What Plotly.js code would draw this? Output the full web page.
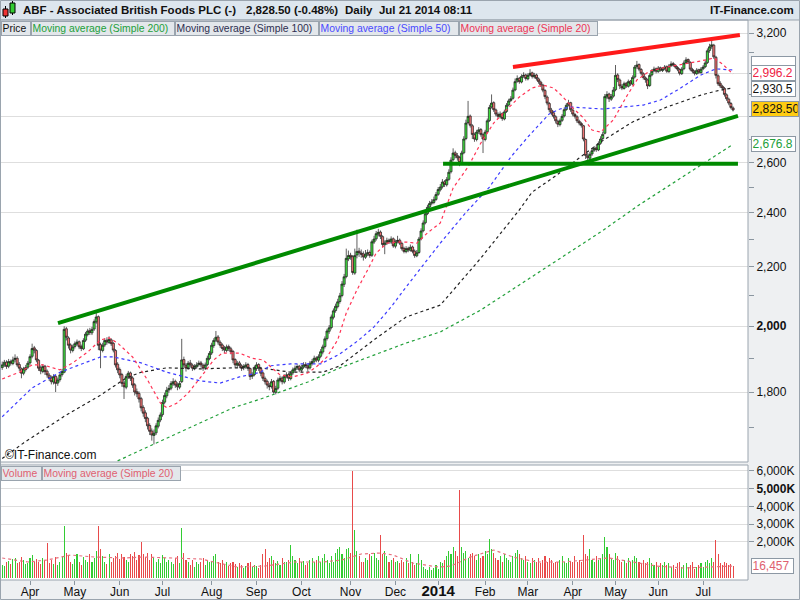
<!DOCTYPE html>
<html><head><meta charset="utf-8">
<script src="https://cdn.plot.ly/plotly-3.0.1.min.js"></script>
<style>html,body{margin:0;padding:0;background:#eef0f2;}#chart{width:800px;height:600px;}</style>
</head><body><div id="chart"></div>
<script>
// ---- daily OHLC (trading-day index 0 = 12 Mar 2013 ... 342 = 21 Jul 2014) ----
const openP = [
1872,1880,1888,1876,1890,1884,1896,1900,1881,1868,
1855,1866,1873,1886,1906,1932,1924,1894,1871,1860,
1876,1861,1849,1841,1829,1846,1826,1836,1851,1858,
1992,1963,1941,1924,1936,1944,1951,1936,1929,1956,
1974,1986,1979,1991,2014,2031,1942,1924,1941,1956,
1949,1957,1946,1924,1882,1866,1851,1826,1814,1846,
1856,1841,1821,1801,1796,1781,1756,1741,1726,1706,
1691,1679,1686,1704,1721,1736,1771,1789,1806,1811,
1824,1831,1821,1814,1830,1896,1879,1871,1886,1879,
1871,1874,1881,1886,1879,1871,1881,1899,1916,1939,
1956,1966,1949,1941,1931,1924,1936,1929,1921,1896,
1879,1886,1877,1871,1874,1881,1869,1846,1851,1869,
1881,1869,1856,1839,1831,1819,1816,1831,1799,1811,
1834,1841,1829,1846,1851,1839,1856,1864,1871,1876,
1864,1873,1881,1877,1871,1884,1891,1901,1894,1906,
1919,1936,1961,1984,1996,2029,2051,2064,2081,2101,
2139,2166,2228,2241,2236,2178,2242,2256,2249,2246,
2234,2246,2251,2241,2289,2301,2319,2326,2309,2279,
2286,2296,2289,2301,2274,2291,2296,2284,2266,2254,
2266,2259,2271,2256,2239,2251,2301,2331,2361,2396,
2421,2436,2439,2451,2471,2489,2501,2521,2509,2531,
2562,2612,2641,2629,2621,2598,2641,2702,2772,2801,
2758,2719,2698,2732,2741,2719,2698,2732,2781,2842,
2862,2829,2809,2798,2812,2788,2822,2851,2872,2882,
2921,2962,2976,2958,2987,2992,2973,2991,3002,2983,
2992,2973,2958,2944,2918,2888,2858,2828,2816,2798,
2778,2763,2782,2802,2831,2852,2862,2828,2808,2798,
2778,2768,2758,2698,2628,2618,2636,2652,2662,2653,
2682,2702,2725,2888,2902,2878,2892,2922,2992,2968,
2938,2928,2952,2938,2962,2948,2982,3032,3042,3018,
2998,2978,2968,2942,2992,3012,3022,3008,3027,3013,
3022,3032,3008,3037,3047,3038,3028,3018,2998,3022,
3052,3067,3053,3018,3008,2998,3017,3003,3022,3032,
3052,3112,3132,3138,3078,2988,2952,2938,2928,2898,
2878,2858,2838];
const highP = [
1890,1895,1894,1898,1896,1905,1912,1906,1888,1872,
1874,1880,1892,1912,1945,1938,1928,1898,1878,1882,
1880,1866,1855,1848,1852,1850,1842,1856,1868,2000,
1998,1968,1946,1942,1952,1958,1955,1942,1962,1982,
1992,1995,1998,2022,2045,2035,1948,1948,1962,1965,
1968,1962,1950,1928,1888,1872,1856,1832,1852,1862,
1860,1846,1826,1810,1802,1786,1762,1748,1730,1712,
1698,1695,1712,1728,1742,1778,1798,1815,1820,1832,
1840,1836,1828,1832,1960,1905,1885,1892,1895,1884,
1882,1888,1893,1892,1884,1887,1908,1922,1948,1962,
1985,1972,1955,1946,1938,1942,1942,1935,1925,1900,
1892,1892,1882,1882,1888,1886,1872,1858,1878,1888,
1885,1874,1860,1845,1836,1826,1838,1835,1818,1842,
1848,1846,1852,1858,1856,1862,1872,1878,1882,1880,
1880,1888,1888,1882,1892,1898,1908,1906,1912,1928,
1942,1968,1992,2004,2038,2058,2074,2090,2110,2150,
2175,2265,2258,2250,2242,2265,2335,2268,2262,2255,
2260,2262,2258,2298,2312,2330,2338,2332,2314,2295,
2305,2302,2310,2306,2298,2312,2302,2290,2272,2274,
2272,2280,2276,2262,2260,2308,2340,2370,2405,2430,
2445,2452,2462,2480,2500,2512,2532,2528,2540,2572,
2622,2660,2650,2640,2628,2650,2712,2785,2870,2808,
2765,2728,2740,2752,2748,2726,2740,2790,2852,2900,
2868,2835,2818,2822,2818,2830,2860,2880,2892,2932,
2975,2990,2982,2995,3005,2998,3000,3020,3008,3002,
2998,2980,2965,2950,2925,2895,2865,2838,2825,2805,
2785,2790,2810,2840,2860,2875,2866,2835,2815,2805,
2785,2775,2762,2702,2640,2645,2660,2670,2672,2690,
2712,2732,2902,2915,2908,2902,2935,3040,3000,2975,
2948,2960,2958,2970,2968,2990,3040,3060,3048,3025,
3005,2985,2975,3000,3020,3032,3028,3035,3032,3030,
3040,3038,3045,3058,3055,3045,3035,3025,3030,3062,
3078,3072,3058,3026,3015,3025,3022,3030,3040,3062,
3122,3145,3160,3145,3085,2995,2962,2945,2935,2905,
2885,2865,2845];
const lowP = [
1865,1874,1868,1870,1878,1879,1888,1874,1862,1840,
1849,1860,1868,1880,1900,1915,1888,1862,1852,1855,
1850,1842,1832,1822,1822,1800,1818,1830,1845,1855,
1955,1930,1915,1918,1930,1938,1928,1922,1925,1950,
1968,1972,1972,1985,2008,1925,1870,1918,1935,1942,
1944,1938,1918,1872,1855,1840,1815,1780,1808,1838,
1832,1812,1790,1785,1770,1745,1730,1715,1695,1680,
1665,1655,1680,1698,1715,1730,1765,1782,1798,1805,
1818,1812,1805,1808,1826,1872,1860,1865,1872,1862,
1864,1868,1875,1872,1862,1865,1876,1894,1910,1932,
1950,1942,1932,1922,1916,1918,1922,1912,1885,1872,
1870,1870,1862,1864,1868,1862,1835,1838,1846,1862,
1862,1846,1832,1822,1810,1805,1810,1795,1793,1806,
1828,1822,1824,1840,1832,1834,1850,1858,1865,1858,
1858,1868,1870,1862,1866,1878,1885,1888,1888,1900,
1912,1930,1955,1976,1990,2022,2044,2058,2074,2095,
2130,2160,2220,2225,2172,2172,2230,2235,2232,2222,
2228,2238,2232,2235,2282,2294,2310,2300,2270,2245,
2278,2282,2282,2268,2266,2284,2278,2258,2248,2248,
2252,2254,2248,2232,2234,2246,2295,2325,2355,2390,
2414,2428,2432,2445,2465,2482,2494,2500,2502,2525,
2555,2605,2618,2608,2585,2592,2635,2695,2765,2750,
2700,2688,2690,2722,2710,2640,2690,2725,2775,2835,
2820,2800,2790,2790,2780,2782,2815,2845,2865,2876,
2915,2955,2950,2952,2978,2965,2966,2985,2975,2975,
2965,2950,2935,2910,2878,2850,2818,2805,2790,2768,
2752,2755,2775,2795,2825,2845,2820,2800,2790,2770,
2760,2750,2690,2615,2595,2610,2628,2645,2645,2648,
2675,2695,2720,2878,2865,2870,2885,2915,2958,2925,
2920,2922,2930,2932,2940,2942,2975,3022,3010,2990,
2970,2955,2925,2935,2985,3005,3000,3002,3008,3006,
3015,3002,3002,3030,3032,3022,3010,2990,2992,3015,
3045,3045,3010,3000,2990,2992,2996,2998,3015,3025,
3045,3100,3120,3070,2975,2940,2930,2918,2890,2870,
2850,2832,2822];
const closeP = [
1880,1888,1875,1890,1885,1895,1900,1880,1870,1855,
1868,1872,1885,1905,1930,1925,1895,1870,1862,1875,
1860,1850,1840,1830,1845,1825,1835,1850,1860,1990,
1965,1940,1925,1935,1945,1950,1935,1930,1955,1975,
1985,1980,1990,2015,2030,1940,1925,1940,1955,1950,
1958,1945,1925,1880,1865,1850,1825,1815,1845,1855,
1840,1820,1800,1795,1780,1755,1740,1725,1705,1690,
1680,1685,1705,1720,1735,1770,1790,1805,1810,1825,
1830,1820,1815,1825,1895,1880,1870,1885,1880,1870,
1875,1880,1885,1880,1870,1880,1900,1915,1940,1955,
1965,1950,1940,1930,1925,1935,1930,1920,1895,1880,
1885,1878,1870,1875,1880,1870,1845,1850,1870,1880,
1870,1855,1840,1830,1820,1815,1830,1800,1810,1835,
1840,1830,1845,1850,1840,1855,1865,1870,1875,1865,
1872,1880,1878,1870,1885,1890,1900,1895,1905,1920,
1935,1960,1985,1995,2030,2050,2065,2080,2100,2140,
2165,2230,2240,2235,2180,2240,2255,2250,2245,2235,
2245,2250,2240,2290,2300,2320,2325,2310,2280,2285,
2295,2290,2300,2275,2290,2295,2285,2265,2255,2265,
2260,2270,2255,2240,2250,2300,2330,2360,2395,2420,
2435,2440,2450,2470,2490,2500,2520,2510,2530,2560,
2610,2640,2630,2620,2600,2640,2700,2770,2800,2760,
2720,2700,2730,2740,2720,2700,2730,2780,2840,2860,
2830,2810,2800,2810,2790,2820,2850,2870,2880,2920,
2960,2975,2960,2985,2990,2975,2990,3000,2985,2990,
2975,2960,2945,2920,2890,2860,2830,2815,2800,2780,
2765,2780,2800,2830,2850,2860,2830,2810,2800,2780,
2770,2760,2700,2630,2620,2635,2650,2660,2655,2680,
2700,2720,2890,2900,2880,2890,2920,2990,2970,2940,
2930,2950,2940,2960,2950,2980,3030,3040,3020,3000,
2980,2970,2940,2990,3010,3020,3010,3025,3015,3020,
3030,3010,3035,3045,3040,3030,3020,3000,3020,3050,
3065,3055,3020,3010,3000,3015,3005,3020,3030,3050,
3110,3130,3140,3080,2990,2950,2940,2930,2900,2880,
2860,2840,2828.5];
// volume in thousands of shares
const volumeK = [
720,640,880,950,760,1020,1080,820,900,1150,
980,760,840,1100,1250,900,1050,880,760,1080,
960,1960,820,1000,760,1150,720,860,1200,2900,
1400,1250,900,780,1050,1300,880,700,1150,1000,
900,1350,850,1100,1500,2900,1600,1200,900,780,
1300,850,1100,1200,1400,1050,1300,1150,1000,900,
1350,1200,1450,1000,1250,2000,1300,1150,1400,1000,
1300,1100,900,1050,800,1250,1100,900,1000,850,
750,1100,1200,800,2800,1400,1000,850,700,1000,
600,900,750,850,1100,700,1000,850,950,1200,
1300,900,800,1000,700,850,650,800,900,750,
600,800,700,550,650,800,900,600,700,650,
550,700,1300,1600,900,1100,1200,1000,800,950,
700,1100,850,900,1000,1830,1200,1000,800,1100,
900,950,700,800,1000,1100,850,1000,1200,900,
1100,1300,1000,800,1200,900,1400,1600,1700,1300,
1100,1600,1650,1400,6000,2700,1500,1200,900,900,
1100,1000,1300,1200,1400,1100,1000,2400,1300,1500,
1200,900,1000,1100,850,950,800,1000,900,1100,
800,1300,900,700,800,1300,1000,600,500,450,
600,400,550,700,500,900,800,1000,1200,1500,
1300,1700,1500,1200,4930,1700,1400,1500,1100,1300,
1400,1200,1000,1300,1100,1200,1500,1300,2170,1600,
1400,1100,1000,1200,900,1300,1100,1000,900,1200,
1400,1550,1300,1100,1000,1200,900,800,1100,1000,
900,1100,800,1000,1200,900,1100,1000,800,900,
850,1000,1200,900,800,1100,950,850,1200,900,
1000,900,2390,1300,1200,1600,1000,900,1200,1000,
1100,1300,2260,1700,1300,1100,1000,1400,1200,1000,
900,1000,800,1100,900,1000,1200,1100,900,800,
1000,800,900,1100,800,700,900,600,800,700,
900,700,800,600,700,500,800,900,600,700,
800,600,700,900,500,600,700,800,600,900,
1000,800,1100,900,2140,1300,800,700,900,800,
700,750,650];
const lastVolumeRaw = 16457;

// moving averages (index, value)
const sma200Idx = [54,77,93,108,121,130,143,158,174,189,205,224,242,261,280,298,309,325,342];
const sma200Val = [1612,1672,1713,1755,1780,1800,1829,1871,1910,1947,1982,2053,2137,2231,2326,2429,2488,2578,2676.8];
const sma100Idx = [0,10,30,46,58,65,77,93,108,121,135,150,158,174,189,205,214,224,233,242,248,259,270,280,295,311,327,335,342];
const sma100Val = [1618,1659,1735,1791,1841,1858,1871,1868,1871,1871,1858,1858,1877,1957,2030,2069,2144,2231,2319,2410,2480,2545,2619,2687,2775,2842,2897,2918,2930.5];
const sma50Idx = [0,14,27,40,46,52,65,77,93,102,111,121,125,135,149,158,167,174,182,189,197,205,217,228,238,246,252,256,261,266,273,281,300,308,316,327,334,342];
const sma50Val = [1730,1812,1858,1889,1904,1904,1886,1858,1832,1826,1844,1858,1877,1883,1883,1913,1957,1998,2063,2130,2206,2285,2400,2500,2623,2709,2770,2811,2833,2842,2838,2833,2851,2874,2921,2992,3021,3016];
const sma20Idx = [0,8,14,19,27,33,40,46,50,54,61,68,74,77,82,87,93,99,103,111,117,122,130,136,143,147,152,157,161,166,171,175,180,185,189,194,199,205,211,218,224,230,236,242,248,253,258,262,267,272,276,280,286,292,297,303,311,320,327,333,337,342];
const sma20Val = [1838,1858,1880,1880,1865,1886,1919,1957,1963,1947,1904,1835,1769,1755,1769,1797,1844,1895,1916,1916,1900,1895,1850,1844,1856,1874,1904,1957,2043,2120,2189,2249,2285,2289,2289,2285,2323,2360,2496,2582,2683,2770,2829,2888,2930,2944,2930,2893,2838,2793,2739,2730,2784,2888,2968,3011,3030,3045,3060,3074,3045,2996.2];
const volMaIdx = [0,12,21,32,43,57,66,83,93,101,110,123,137,150,159,168,177,183,192,204,210,219,230,239,250,262,272,284,295,306,319,330,342];
const volMaVal = [1098,873,985,1267,1154,1098,1154,1098,1042,816,591,647,873,873,985,1323,1380,1267,816,591,647,1154,1548,1154,873,873,985,1098,873,647,535,591,647];

// hand-drawn trend lines
const trendUpIdx = [26.1, 344.3], trendUpVal = [2010, 2802];
const supportIdx = [206.3, 344.3], supportVal = [2595, 2595];
const resistIdx = [239, 345.2], resistVal = [3030, 3190];

// axis ticks
const monthTickIdx = [13,34,55,75,98,119,140,163,184,204,226,246,267,287,307,328];
const monthTickText = ['Apr','May','Jun','Jul','Aug','Sep','Oct','Nov','Dec','2014','Feb','Mar','Apr','May','Jun','Jul'];
const priceTicks = [1800,2000,2200,2400,2600,2800,3000,3200];
const priceTicksCovered = [2800,3000];   // labels hidden behind the value boxes in the reference
const priceMinorTicks = [1700,1900,2100,2300,2500,2700,2900,3100];
const volTicks = [2000,3000,4000,5000,6000];

const idx = closeP.map((_, i) => i);
const F = 'Liberation Sans, Arial, sans-serif';
const FN = 'Liberation Sans Narrow, Liberation Sans, Arial, sans-serif';
const fmt = v => v.toLocaleString('en-US');
const fmtDec = (v, d) => v.toLocaleString('en-US', {minimumFractionDigits:d, maximumFractionDigits:d});
const px = p => p / 748;            // canvas px -> paper x
const py = p => (580 - p) / 560;    // canvas px -> paper y
const last = a => a[a.length-1];

const volColors = closeP.map((c, i) => c >= openP[i] ? '#33cc33' : '#e84a4a');

const dash = '3px,3px';
const traces = [
  {type:'scatter', mode:'lines', x:sma200Idx, y:sma200Val, line:{color:'#22a03a', width:1.2, dash}, hoverinfo:'skip'},
  {type:'scatter', mode:'lines', x:sma100Idx, y:sma100Val, line:{color:'#222222', width:1.2, dash}, hoverinfo:'skip'},
  {type:'scatter', mode:'lines', x:sma50Idx, y:sma50Val, line:{color:'#3b3bff', width:1.2, dash}, hoverinfo:'skip'},
  {type:'scatter', mode:'lines', x:sma20Idx, y:sma20Val, line:{color:'#ff3355', width:1.2, dash}, hoverinfo:'skip'},
  {type:'candlestick', x:idx, open:openP, high:highP, low:lowP, close:closeP,
   increasing:{line:{color:'#1a1a1a', width:0.7}, fillcolor:'#3fdc3f'},
   decreasing:{line:{color:'#1a1a1a', width:0.7}, fillcolor:'#f07474'},
   whiskerwidth:0, hoverinfo:'skip'},
  {type:'scatter', mode:'lines', x:trendUpIdx, y:trendUpVal, line:{color:'#008a00', width:4}, hoverinfo:'skip'},
  {type:'scatter', mode:'lines', x:supportIdx, y:supportVal, line:{color:'#008a00', width:4}, hoverinfo:'skip'},
  {type:'scatter', mode:'lines', x:resistIdx, y:resistVal, line:{color:'#ff1a1a', width:4}, hoverinfo:'skip'},
  {type:'bar', x:idx, y:volumeK, yaxis:'y2', marker:{color:volColors, line:{width:0}}, width:0.5, hoverinfo:'skip'},
  {type:'scatter', mode:'lines', x:volMaIdx, y:volMaVal, yaxis:'y2', line:{color:'#e8707e', width:1.2, dash}, hoverinfo:'skip'}
];

const annotations = [];
const hdr = (text, x, anchor) => annotations.push({xref:'paper', yref:'paper', x:px(x), y:py(10.5), xanchor:anchor, yanchor:'middle',
  text:'<b>'+text+'</b>', showarrow:false, font:{family:F, size:11.5, color:'#111'}});
hdr('ABF - Associated British Foods PLC (-)', 21, 'left');
hdr(fmtDec(last(closeP), 2) + ' (-0.48%)', 244, 'left');
hdr('Daily&nbsp;&nbsp;Jul 21 2014 08:11', 343, 'left');
hdr('IT-Finance.com', 796, 'right');

const legBox = (text, x0, x1, yTop, color) => annotations.push({xref:'paper', yref:'paper', x:px(x0), y:py(yTop), xanchor:'left', yanchor:'top',
  width:x1-x0-3, height:12, align:'left', text:text, showarrow:false, bgcolor:'#e3e7eb', bordercolor:'#9aa4ae', borderwidth:1, borderpad:0.5,
  font:{family:F, size:10.4, color:color}});
legBox('Price', 1, 31, 20.5, '#111');
legBox('Moving average (Simple 200)', 31, 175, 20.5, '#22a03a');
legBox('Moving average (Simple 100)', 175, 319, 20.5, '#2e2e50');
legBox('Moving average (Simple 50)', 319, 459, 20.5, '#4a4aff');
legBox('Moving average (Simple 20)', 459, 598, 20.5, '#ee3355');
legBox('Volume', 1, 42, 465.5, '#e06070');
legBox('Moving average (Simple 20)', 42, 181, 465.5, '#e06070');

annotations.push({xref:'paper', yref:'paper', x:px(3), y:py(455), xanchor:'left', yanchor:'middle', showarrow:false,
  text:'©IT-Finance.com', font:{family:F, size:12, color:'#111'}});

const valBox = (y, yref, text, color, bg, w, shift) => annotations.push({xref:'paper', yref:yref, x:px(751), y:y,
  xanchor:'left', yanchor:'middle', yshift:shift || 0, text:text, showarrow:false, bgcolor:bg, bordercolor:'#8c98a4', borderwidth:1, borderpad:0.5,
  width:w, height:13, align:'left', font:{family:F, size:12, color:color}});
valBox(Math.log10(last(sma50Val)), 'y', '', '#4a4aff', '#ffffff', 42, 6);
valBox(Math.log10(last(sma20Val)), 'y', fmtDec(last(sma20Val), 1), '#ee2244', '#ffffff', 42, 1);
valBox(Math.log10(last(sma100Val)), 'y', fmtDec(last(sma100Val), 1), '#111', '#ffffff', 42, -1);
valBox(Math.log10(last(closeP)), 'y', fmtDec(last(closeP), 2), '#111', '#ffcc11', 45, 1);
valBox(Math.log10(last(sma200Val)), 'y', fmtDec(last(sma200Val), 1), '#22a03a', '#ffffff', 42, 0);
valBox(650, 'y2', fmt(lastVolumeRaw), '#e06070', '#ffffff', 40, 0);

const shapes = [
  {type:'rect', xref:'paper', yref:'paper', x0:0, x1:px(800), y0:py(20), y1:py(0), fillcolor:'#dde6ee', line:{width:0}, layer:'below'},
  {type:'line', xref:'paper', yref:'paper', x0:0, x1:px(800), y0:py(20), y1:py(20), line:{color:'#9aa4ae', width:1}},
  {type:'rect', xref:'paper', yref:'paper', x0:px(0.5), x1:1, y0:py(462), y1:py(20), line:{color:'#9aa4ae', width:1}},
  {type:'rect', xref:'paper', yref:'paper', x0:px(0.5), x1:1, y0:py(580), y1:py(465), line:{color:'#9aa4ae', width:1}},
  {type:'rect', xref:'paper', yref:'paper', x0:px(0.5), x1:px(799.5), y0:py(599.5), y1:py(0.5), line:{color:'#9aa4ae', width:1}},
  // header icon
  {type:'line', xref:'paper', yref:'paper', x0:px(5.5), x1:px(5.5), y0:py(18), y1:py(6), line:{color:'#000', width:1}},
  {type:'rect', xref:'paper', yref:'paper', x0:px(3), x1:px(8), y0:py(16), y1:py(9), fillcolor:'#ee3333', line:{color:'#000', width:1}},
  {type:'line', xref:'paper', yref:'paper', x0:px(12.5), x1:px(12.5), y0:py(15), y1:py(1), line:{color:'#000', width:1}},
  {type:'rect', xref:'paper', yref:'paper', x0:px(10), x1:px(15), y0:py(13), y1:py(3), fillcolor:'#33cc33', line:{color:'#000', width:1}}
];

const layout = {
  width:800, height:600,
  margin:{l:0, r:52, t:20, b:20, pad:0},
  paper_bgcolor:'#eef0f2', plot_bgcolor:'#ffffff',
  showlegend:false, dragmode:false, bargap:0, boxgap:0, boxgroupgap:0,
  font:{family:F, size:12, color:'#111'},
  xaxis:{anchor:'y2', range:[-1.04, 349.0], rangeslider:{visible:false}, showgrid:false, zeroline:false,
    tickmode:'array', tickvals:monthTickIdx,
    ticktext:monthTickText.map(t => t === '2014' ? '<b><span style="font-size:15px">2014</span></b>' : t),
    ticks:'outside', ticklen:4, tickcolor:'#8a96a0', ticklabelstandoff:-3, tickfont:{family:FN, size:12, color:'#111'}, showline:false},
  yaxis:{domain:[py(462), 1], type:'log', range:[Math.log10(1609), Math.log10(3267.4)], side:'right', anchor:'x',
    tickmode:'array', tickvals:priceTicks,
    ticktext:priceTicks.map(v => priceTicksCovered.includes(v) ? '' : (v === 2000 ? '<b>2,000</b>' : fmt(v))),
    ticks:'outside', ticklen:5, tickcolor:'#8a96a0', tickfont:{family:F, size:12, color:'#111'},
    showgrid:true, gridcolor:'#dedede', gridwidth:1, zeroline:false, showline:false,
    minor:{tickmode:'array', tickvals:priceMinorTicks, ticks:'outside', ticklen:5, tickcolor:'#8a96a0', showgrid:false}},
  yaxis2:{domain:[0, py(465)], range:[-140, 6334], side:'right', anchor:'x',
    tickmode:'array', tickvals:volTicks, ticktext:volTicks.map(v => v === 5000 ? '<b>5,000K</b>' : fmt(v) + 'K'),
    ticks:'outside', ticklen:5, tickcolor:'#8a96a0', tickfont:{family:F, size:12, color:'#111'},
    showgrid:true, gridcolor:'#dedede', zeroline:false, showline:false},
  annotations, shapes
};

Plotly.newPlot('chart', traces, layout, {staticPlot:true, displayModeBar:false});
</script></body></html>
